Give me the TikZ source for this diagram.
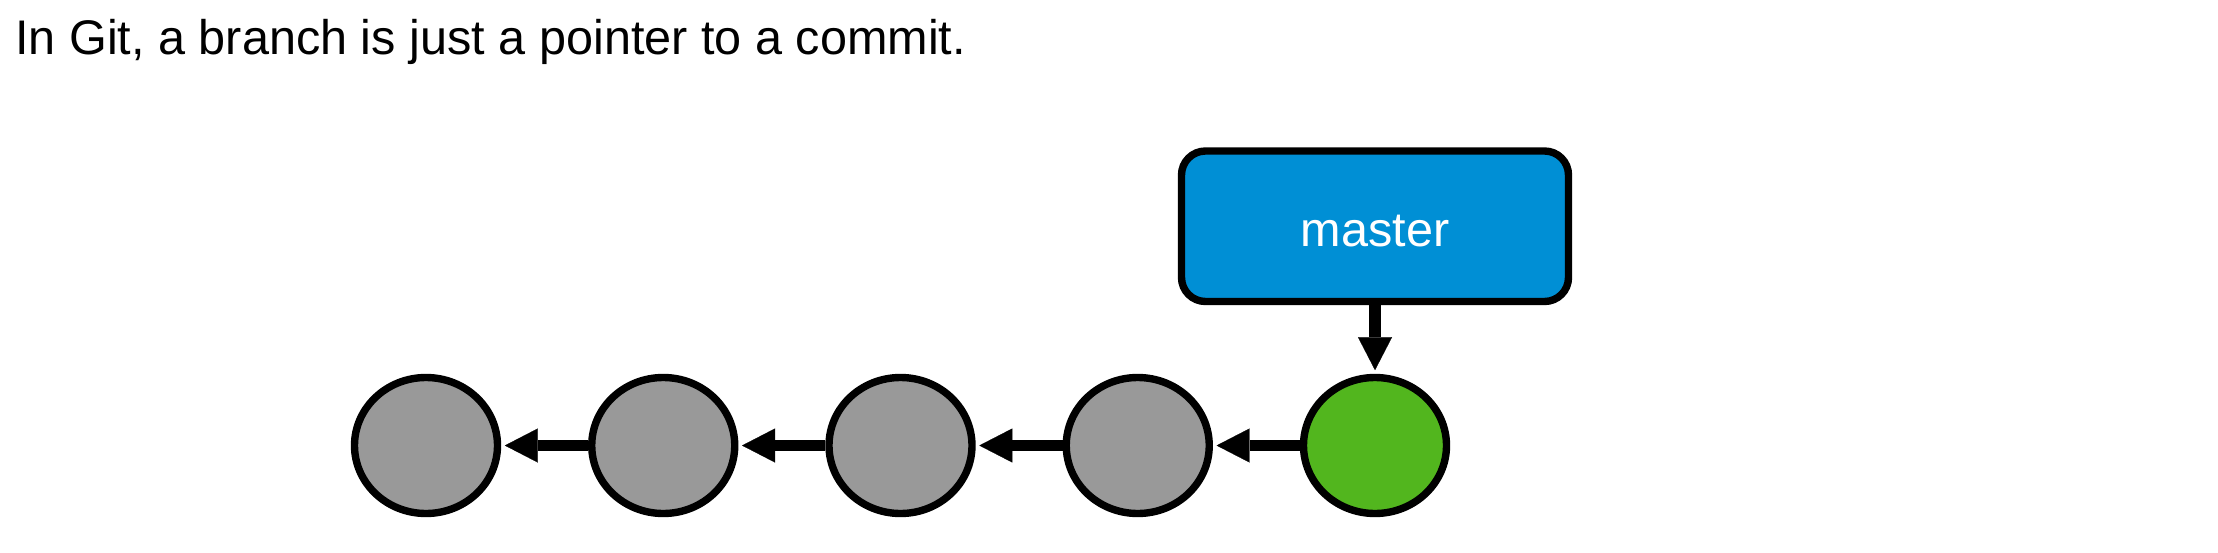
\documentclass[tikz,border=0pt]{standalone}
\usepackage{fontspec}
\setmainfont{Liberation Sans}
\usetikzlibrary{shapes.geometric,arrows.meta}
\definecolor{gitblue}{RGB}{0,143,213}
\definecolor{gitgreen}{RGB}{82,182,30}
\definecolor{gitgray}{RGB}{153,153,153}

\begin{document}
\begin{tikzpicture}[x=0.5pt,y=-0.5pt,line width=5.75pt,shorten >=1.8pt,-{Triangle[length=16.5pt,width=17pt,line width=0.1pt]},draw=black]
	\tikzstyle{titletext}=[anchor=base west,inner sep=0pt,font=\fontsize{24.3}{28}\selectfont]
	\tikzstyle{commit}=[ellipse,draw=black,line width=3.7pt,fill=gitgray,inner sep=0pt,minimum width=71.5pt,minimum height=68pt]
	\tikzstyle{tipcommit}=[commit,fill=gitgreen]
	\tikzstyle{branch}=[rectangle,rounded corners=12pt,draw=black,line width=3.7pt,fill=gitblue,text=white,minimum width=193.5pt,minimum height=75.25pt,text height=20pt,text depth=0pt,font=\fontsize{24.3}{28}\selectfont]
	
	\def \row{445.5}
	\def \ptr{226.25}
	
	\useasboundingbox (0,0) rectangle (2218,552);
	
	\node[titletext] 	(title)	at (9.5,54)	{In Git, a branch is just a pointer to a commit.};
	
	% commits, oldest on the left
	\node[commit] 		(c0)	at (426,\row)		{};
	\node[commit] 		(c1)	at (663.25,\row)	{};
	\node[commit] 		(c2)	at (900.5,\row)		{};
	\node[commit] 		(c3)	at (1137.75,\row)	{};
	\node[tipcommit] 	(c4)	at (1375,\row)		{};
	
	\node[branch] 		(master)	at (1375,\ptr)	{master};
	
	\draw (c4) -- (c3);
	\draw (c3) -- (c2);
	\draw (c2) -- (c1);
	\draw (c1) -- (c0);
	
	\draw (master) -- (c4);
\end{tikzpicture}
\end{document}
